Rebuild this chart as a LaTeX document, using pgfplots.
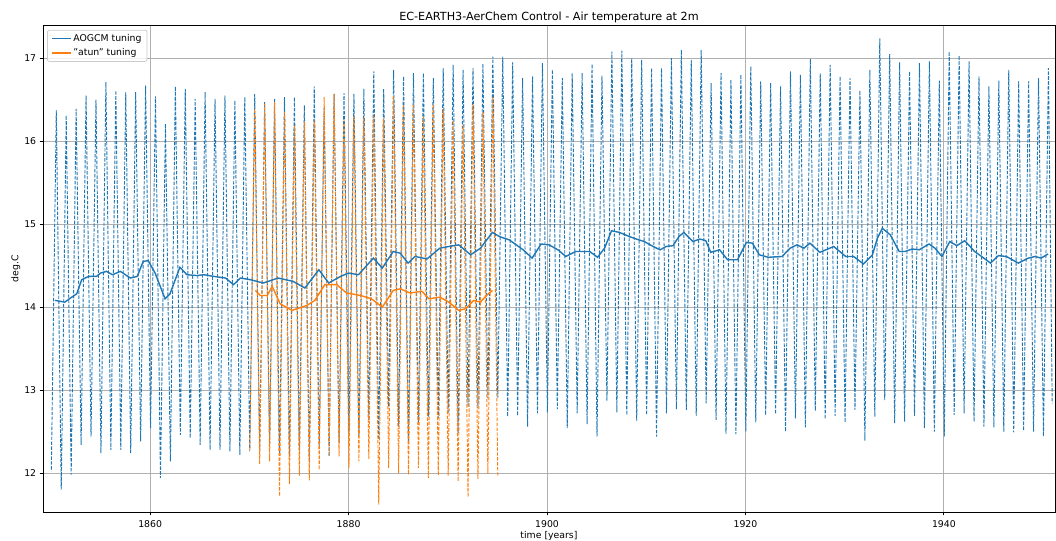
\documentclass[border=0pt]{standalone}
\usepackage{fontspec}
\setmainfont{DejaVu Sans}
\usepackage{pgfplots}
\pgfplotsset{compat=1.18}
\definecolor{mplblue}{HTML}{1F77B4}
\definecolor{mplorange}{HTML}{FF7F0E}
\definecolor{mplgrid}{HTML}{B0B0B0}
\newcommand{\basefont}{\fontsize{9.33bp}{11.2bp}\selectfont}
\newcommand{\titlefont}{\fontsize{11.2bp}{13.4bp}\selectfont}

\begin{document}
\begin{tikzpicture}
\begin{axis}[
  at={(0,0)}, anchor=south west,
  scale only axis, width=1012bp, height=487bp,
  xmin=1849.2, xmax=1951.2, ymin=11.53, ymax=17.40,
  xtick={1860,1880,1900,1920,1940}, ytick={12,13,14,15,16,17},
  /pgf/number format/1000 sep={},
  /pgf/number format/assume math mode=true,
  tick label style={font=\basefont},
  xticklabel style={yshift=-1.5bp},
  tick align=outside, tick pos=left,
  major tick length=3.3bp,
  every tick/.style={black, line width=0.75bp},
  axis line style={line width=0.75bp},
  grid=major, grid style={mplgrid, line width=0.75bp},
  title={EC-EARTH3-AerChem Control - Air temperature at 2m},
  every axis title/.style={font=\titlefont, at={(axis description cs:0.5,1.010)}, anchor=base},
  xlabel={time [years]},
  xlabel style={font=\basefont, at={(axis description cs:0.5,-0.050)}, anchor=center},
  ylabel={deg.C},
  ylabel style={font=\basefont, at={(axis description cs:-0.027,0.5)}, anchor=center},
  legend style={at={(axis description cs:0.004,0.99)}, anchor=north west,
    draw=black!20, line width=0.75bp, rounded corners=2bp,
    fill=white, fill opacity=0.8, text opacity=1,
    font=\basefont, inner xsep=4bp, inner ysep=2.5bp, row sep=3bp,
    nodes={inner sep=1.5bp},
    /tikz/every even column/.append style={column sep=7bp}},
  legend cell align=left,
  legend image code/.code={\draw[#1] (0bp,0bp) -- (19bp,0bp);},
]
% monthly series, AOGCM tuning (January minima, July maxima)
\addplot[forget plot, mplblue, line width=0.93bp, dash pattern=on 3.45bp off 1.5bp] coordinates {
(1850.04,12.04) (1850.54,16.37) (1851.04,11.80) (1851.54,16.31)
(1852.04,11.98) (1852.54,16.39) (1853.04,12.34) (1853.54,16.55)
(1854.04,12.44) (1854.54,16.50) (1855.04,12.24) (1855.54,16.71)
(1856.04,12.28) (1856.54,16.61) (1857.04,12.28) (1857.54,16.59)
(1858.04,12.24) (1858.54,16.59) (1859.04,12.38) (1859.54,16.67)
(1860.04,12.54) (1860.54,16.54) (1861.04,11.94) (1861.54,16.21)
(1862.04,12.14) (1862.54,16.66) (1863.04,12.46) (1863.54,16.63)
(1864.04,12.42) (1864.54,16.51) (1865.04,12.34) (1865.54,16.59)
(1866.04,12.28) (1866.54,16.51) (1867.04,12.28) (1867.54,16.55)
(1868.04,12.26) (1868.54,16.49) (1869.04,12.22) (1869.54,16.53)
(1870.04,12.26) (1870.54,16.57) (1871.04,12.28) (1871.54,16.47)
(1872.04,12.36) (1872.54,16.51) (1873.04,12.24) (1873.54,16.53)
(1874.04,12.20) (1874.54,16.53) (1875.04,12.28) (1875.54,16.43)
(1876.04,12.14) (1876.54,16.66) (1877.04,12.32) (1877.54,16.40)
(1878.04,12.20) (1878.54,16.57) (1879.04,12.36) (1879.54,16.58)
(1880.04,12.48) (1880.54,16.57) (1881.04,12.44) (1881.54,16.63)
(1882.04,12.64) (1882.54,16.84) (1883.04,12.40) (1883.54,16.63)
(1884.04,12.80) (1884.54,16.86) (1885.04,12.56) (1885.54,16.78)
(1886.04,12.36) (1886.54,16.82) (1887.04,12.58) (1887.54,16.82)
(1888.04,12.68) (1888.54,16.76) (1889.04,12.66) (1889.54,16.88)
(1890.04,12.72) (1890.54,16.92) (1891.04,12.48) (1891.54,16.86)
(1892.04,12.80) (1892.54,16.88) (1893.04,12.78) (1893.54,16.93)
(1894.04,12.90) (1894.54,17.02) (1895.04,12.91) (1895.54,17.02)
(1896.04,12.68) (1896.54,16.95) (1897.04,12.69) (1897.54,16.76)
(1898.04,12.56) (1898.54,16.78) (1899.04,12.72) (1899.54,16.94)
(1900.04,12.73) (1900.54,16.86) (1901.04,12.77) (1901.54,16.76)
(1902.04,12.54) (1902.54,16.82) (1903.04,12.72) (1903.54,16.82)
(1904.04,12.59) (1904.54,16.93) (1905.04,12.44) (1905.54,16.79)
(1906.04,12.87) (1906.54,17.08) (1907.04,12.73) (1907.54,17.09)
(1908.04,12.70) (1908.54,17.00) (1909.04,12.63) (1909.54,16.98)
(1910.04,12.70) (1910.54,16.88) (1911.04,12.44) (1911.54,16.88)
(1912.04,12.72) (1912.54,17.00) (1913.04,12.77) (1913.54,17.10)
(1914.04,12.76) (1914.54,16.98) (1915.04,12.69) (1915.54,17.10)
(1916.04,12.84) (1916.54,16.70) (1917.04,12.64) (1917.54,16.82)
(1918.04,12.47) (1918.54,16.74) (1919.04,12.47) (1919.54,16.80)
(1920.04,12.50) (1920.54,16.90) (1921.04,12.61) (1921.54,16.72)
(1922.04,12.70) (1922.54,16.70) (1923.04,12.71) (1923.54,16.66)
(1924.04,12.50) (1924.54,16.84) (1925.04,12.66) (1925.54,16.80)
(1926.04,12.55) (1926.54,16.99) (1927.04,12.75) (1927.54,16.82)
(1928.04,12.65) (1928.54,16.92) (1929.04,12.69) (1929.54,16.78)
(1930.04,12.61) (1930.54,16.76) (1931.04,12.76) (1931.54,16.61)
(1932.04,12.39) (1932.54,16.86) (1933.04,12.68) (1933.54,17.24)
(1934.04,12.88) (1934.54,17.05) (1935.04,12.60) (1935.54,16.95)
(1936.04,12.62) (1936.54,16.84) (1937.04,12.69) (1937.54,16.94)
(1938.04,12.54) (1938.54,16.96) (1939.04,12.50) (1939.54,16.73)
(1940.04,12.44) (1940.54,17.08) (1941.04,12.70) (1941.54,17.03)
(1942.04,12.72) (1942.54,16.96) (1943.04,12.62) (1943.54,16.78)
(1944.04,12.56) (1944.54,16.66) (1945.04,12.55) (1945.54,16.73)
(1946.04,12.50) (1946.54,16.86) (1947.04,12.49) (1947.54,16.72)
(1948.04,12.51) (1948.54,16.72) (1949.04,12.50) (1949.54,16.76)
(1950.04,12.44) (1950.54,16.88) (1950.92,12.84)
};
% monthly series, "atun" tuning
\addplot[forget plot, mplorange, line width=0.93bp, dash pattern=on 3.45bp off 1.5bp] coordinates {
(1870.04,12.28) (1870.54,16.39) (1871.04,12.11) (1871.54,16.45)
(1872.04,12.14) (1872.54,16.47) (1873.04,11.72) (1873.54,16.35)
(1874.04,11.87) (1874.54,16.19) (1875.04,11.97) (1875.54,16.23)
(1876.04,11.91) (1876.54,16.25) (1877.04,12.04) (1877.54,16.53)
(1878.04,12.22) (1878.54,16.57) (1879.04,12.20) (1879.54,16.25)
(1880.04,12.06) (1880.54,16.30) (1881.04,12.14) (1881.54,16.29)
(1882.04,12.17) (1882.54,16.31) (1883.04,11.62) (1883.54,16.27)
(1884.04,12.06) (1884.54,16.55) (1885.04,12.00) (1885.54,16.43)
(1886.04,11.98) (1886.54,16.45) (1887.04,12.06) (1887.54,16.29)
(1888.04,11.94) (1888.54,16.45) (1889.04,11.97) (1889.54,16.39)
(1890.04,11.97) (1890.54,16.25) (1891.04,11.90) (1891.54,16.19)
(1892.04,11.71) (1892.54,16.45) (1893.04,11.93) (1893.54,16.35)
(1894.04,11.99) (1894.54,16.53) (1895.04,11.97)
};
% running annual means
\addplot[mplblue, line width=1.4bp] coordinates {
(1850.4,14.08) (1851.4,14.06) (1852.1,14.12) (1852.6,14.16) (1853.1,14.33)
(1853.8,14.37) (1854.6,14.37) (1855.0,14.41) (1855.6,14.43) (1856.2,14.39)
(1857.0,14.43) (1858.0,14.35) (1858.7,14.37) (1859.3,14.55) (1859.8,14.56)
(1860.5,14.41) (1861.5,14.10) (1862.0,14.16) (1863.0,14.48) (1863.7,14.39)
(1864.7,14.38) (1865.4,14.39) (1866.4,14.37) (1867.6,14.35) (1868.4,14.27)
(1869.1,14.35) (1870.1,14.33) (1871.4,14.29) (1872.9,14.35) (1874.4,14.31)
(1875.6,14.23) (1877.0,14.45) (1878.0,14.29) (1879.2,14.37) (1880.0,14.41)
(1881.0,14.39) (1882.5,14.59) (1883.4,14.47) (1884.5,14.67) (1885.2,14.65)
(1886.0,14.53) (1886.7,14.61) (1887.9,14.58) (1889.2,14.71) (1890.1,14.73)
(1891.1,14.75) (1892.3,14.63) (1893.3,14.71) (1893.8,14.79) (1894.5,14.90)
(1895.2,14.85) (1896.2,14.81) (1896.9,14.75) (1897.6,14.69) (1898.5,14.59)
(1899.4,14.76) (1900.2,14.75) (1901.1,14.69) (1901.9,14.61) (1902.9,14.67)
(1904.3,14.67) (1905.1,14.60) (1905.8,14.71) (1906.5,14.92) (1907.3,14.90)
(1908.3,14.85) (1909.0,14.82) (1909.8,14.79) (1910.7,14.73) (1911.4,14.69)
(1912.0,14.73) (1912.7,14.74) (1913.3,14.85) (1913.8,14.90) (1914.7,14.79)
(1915.4,14.82) (1916.0,14.80) (1916.5,14.66) (1917.4,14.69) (1918.2,14.57)
(1919.2,14.57) (1920.1,14.78) (1920.7,14.77) (1921.4,14.63) (1922.3,14.60)
(1923.7,14.61) (1924.5,14.71) (1925.2,14.75) (1925.9,14.71) (1926.5,14.77)
(1927.5,14.66) (1928.9,14.73) (1930.1,14.61) (1930.9,14.61) (1931.9,14.52)
(1932.8,14.63) (1933.3,14.83) (1933.8,14.95) (1934.6,14.87) (1935.5,14.67)
(1936.1,14.67) (1936.8,14.70) (1937.5,14.69) (1938.5,14.76) (1939.1,14.71)
(1939.8,14.61) (1940.6,14.79) (1941.3,14.74) (1942.1,14.80) (1943.1,14.67)
(1943.8,14.61) (1944.7,14.53) (1945.5,14.62) (1946.3,14.61) (1947.5,14.53)
(1948.5,14.59) (1949.2,14.61) (1949.8,14.59) (1950.5,14.64)
};
\addlegendentry{AOGCM tuning}
\addplot[mplorange, line width=1.4bp] coordinates {
(1870.6,14.20) (1871.1,14.14) (1871.8,14.14) (1872.3,14.25) (1873.1,14.04)
(1874.3,13.96) (1875.8,14.02) (1876.6,14.08) (1877.6,14.27) (1878.8,14.27)
(1879.8,14.17) (1881.2,14.14) (1882.3,14.10) (1883.4,14.00) (1884.5,14.20)
(1885.2,14.22) (1886.2,14.17) (1887.4,14.19) (1888.1,14.10) (1889.2,14.12)
(1890.1,14.06) (1891.1,13.96) (1891.8,13.98) (1892.6,14.08) (1893.3,14.06)
(1893.9,14.14) (1894.5,14.20)
};
\addlegendentry{"atun" tuning}
\end{axis}
\pgfresetboundingbox
\path (-43bp,-29bp) rectangle (1013bp,512bp);
\end{tikzpicture}
\end{document}
